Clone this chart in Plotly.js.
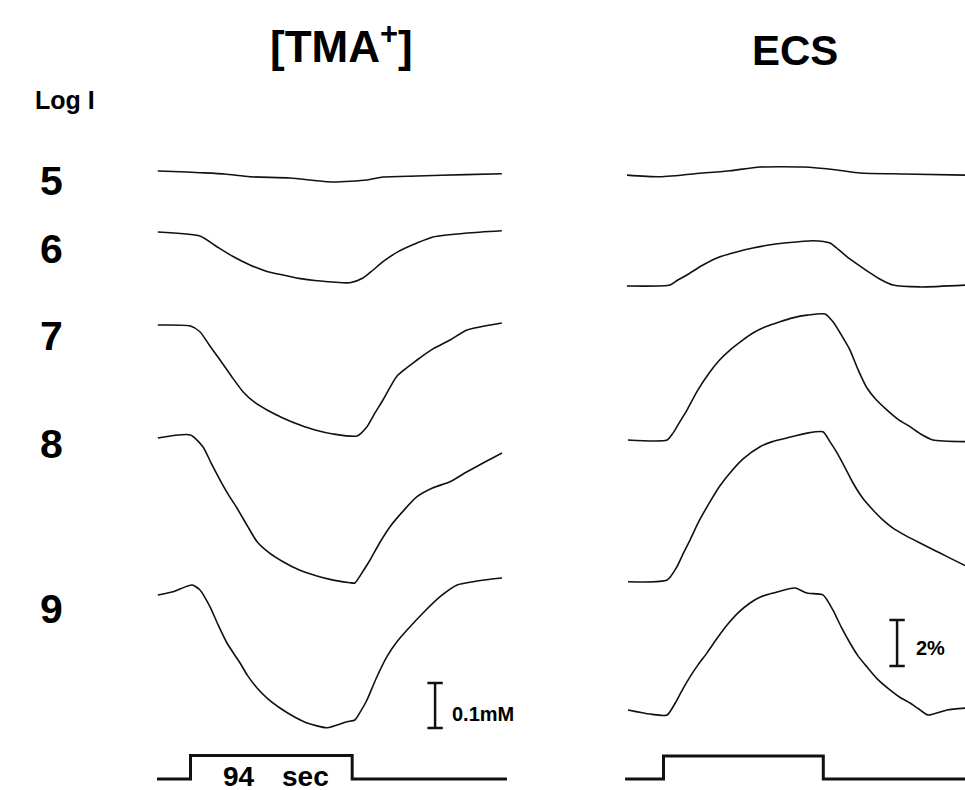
<!DOCTYPE html>
<html>
<head>
<meta charset="utf-8">
<script src="https://cdn.plot.ly/plotly-3.0.1.min.js"></script>
<style>html,body{margin:0;padding:0;background:#fff;}#chart{width:965px;height:790px;}</style>
</head>
<body>
<div id="chart"></div>
<script>
// ---------------- DATA ----------------
// Stimulus intensities (Log I) for the five rows
const logI = ['5', '6', '7', '8', '9'];

// [TMA+] traces: time (s, relative to stimulus onset) and change in [TMA+] (mM)
const tma5_t = [-19, -10, 5.5, 20, 34.6, 57.8, 82.8, 102.6, 111.9, 131.7, 160, 181];
const tma5_v = [0, -0.001, -0.0038, -0.0067, -0.0127, -0.0156, -0.0244, -0.020, -0.0133, -0.0111, -0.008, -0.006];

const tma6_t = [-19, 5.5, 15.4, 25, 34.6, 44, 53.8, 63, 73.5, 92.7, 100.3, 106, 111.9, 121, 131.7, 141, 160.8, 181];
const tma6_v = [0, -0.0089, -0.0327, -0.055, -0.0733, -0.087, -0.0956, -0.103, -0.1082, -0.1127, -0.1022, -0.085, -0.066, -0.043, -0.0244, -0.0111, -0.0022, 0.0029];

const tma7_t = [-19, 0, 5.5, 11, 17.2, 24, 30.5, 37, 44.5, 54, 63.7, 73, 82.8, 96.8, 102.6, 107, 111.9, 120.1, 131.7, 141, 150.9, 160.8, 181];
const tma7_v = [0, -0.0022, -0.0149, -0.045, -0.0778, -0.115, -0.1482, -0.171, -0.1889, -0.207, -0.2222, -0.234, -0.2422, -0.2467, -0.226, -0.197, -0.1667, -0.1133, -0.0778, -0.053, -0.0333, -0.0111, 0.0044];

const tma8_t = [-19, 0, 7.3, 12, 17.2, 22, 27, 33, 38.7, 46, 53.8, 63, 73.5, 83, 92.7, 95.6, 100, 104.4, 110, 116, 124, 131.7, 141, 150.9, 160, 170.1, 181.1];
const tma8_v = [-0.0022, 0.0044, -0.0222, -0.058, -0.0956, -0.128, -0.1578, -0.197, -0.2327, -0.258, -0.2771, -0.295, -0.3089, -0.318, -0.3238, -0.3244, -0.300, -0.2733, -0.235, -0.1993, -0.163, -0.1327, -0.113, -0.0993, -0.079, -0.0578, -0.0356];

const tma9_t = [-19, -10.2, 0.9, 5.5, 11.3, 16, 21.2, 28.8, 33, 38.7, 45, 52, 60, 67.7, 79.4, 91, 95.6, 99, 102.6, 108, 114.2, 120, 125.9, 135.2, 145.1, 155, 164.2, 172, 181.1];
const tma9_v = [0, 0.0073, 0.0222, 0.0111, -0.026, -0.066, -0.1067, -0.1511, -0.178, -0.2067, -0.231, -0.2511, -0.270, -0.2844, -0.2949, -0.2816, -0.2778, -0.258, -0.2333, -0.185, -0.1371, -0.104, -0.0778, -0.04, -0.0038, 0.0222, 0.0296, 0.034, 0.0378];

// ECS traces: time (s) and change in extracellular space volume (%)
const ecs5_t = [-21.5, -2.1, 23.2, 39.1, 56.8, 82.1, 102.1, 115.6, 140.9, 177.4];
const ecs5_v = [0.04, -0.03, 0.13, 0.23, 0.39, 0.39, 0.26, 0.13, 0.09, 0.04];

const ecs6_t = [-21.5, 3.8, 8, 13.8, 23.2, 33.2, 43, 52.6, 62, 72.6, 88.0, 97.9, 103, 108, 115, 121.5, 128, 135, 150.9, 177.4];
const ecs6_v = [0, 0.04, 0.24, 0.48, 0.91, 1.27, 1.48, 1.65, 1.78, 1.88, 1.97, 1.87, 1.58, 1.27, 0.90, 0.57, 0.27, 0.04, -0.04, 0.04];

const ecs7_t = [-20.9, 2.1, 5.6, 9.5, 13.8, 20, 27.4, 33, 39.1, 46, 52.6, 60, 68.5, 76, 84.4, 95.0, 99.7, 104.5, 109.7, 114.5, 119.7, 125, 131.5, 138, 145, 151, 158.5, 177.4];
const ecs7_v = [0, 0, 0.30, 0.78, 1.30, 2.15, 2.97, 3.48, 3.91, 4.31, 4.65, 4.92, 5.14, 5.31, 5.43, 5.48, 5.14, 4.58, 3.91, 3.05, 2.26, 1.76, 1.30, 0.90, 0.58, 0.27, 0, -0.07];

const ecs8_t = [-20.9, 2.1, 7.9, 11.5, 15.6, 21, 27.4, 33, 39.1, 47, 56.8, 64, 72.6, 84.4, 93.8, 98, 102.1, 107, 111.5, 117, 123.2, 129, 135, 143, 150.9, 159, 166.8, 177.4];
const ecs8_v = [-0.03, 0.04, 0.62, 1.18, 1.78, 2.62, 3.45, 4.12, 4.70, 5.32, 5.84, 6.06, 6.22, 6.43, 6.49, 6.05, 5.57, 4.90, 4.26, 3.62, 3.09, 2.66, 2.30, 1.95, 1.65, 1.35, 1.06, 0.67];

const ecs9_t = [-20.9, -7.9, 2.1, 7.9, 11.5, 15.6, 20.5, 25.6, 31, 37.4, 44, 50.9, 57, 64.4, 77.4, 84.4, 93.8, 99.7, 104.5, 109.7, 114.5, 119.7, 126, 133.2, 139, 145, 150, 155.6, 166.8, 177.4];
const ecs9_v = [0.09, -0.09, -0.13, 0.52, 1.02, 1.53, 2.07, 2.57, 3.15, 3.78, 4.32, 4.74, 5.00, 5.17, 5.39, 5.17, 5.09, 4.43, 3.70, 3.00, 2.43, 1.96, 1.42, 0.96, 0.64, 0.39, 0.14, -0.13, 0.09, 0.17];

// Stimulus (94 s): time (s) and on/off state
const stimTma_t = [-19.5, 0, 0, 94, 94, 184];
const stimEcs_t = [-22.6, 0, 0, 94, 94, 180];
const stim_on = [0, 0, 1, 1, 0, 0];

// Calibration bars
const scaleTma = 0.1;  // mM
const scaleEcs = 2;    // %

// ---------------- LAYOUT / POSITIONS ----------------
const W = 965, H = 790;
const FONT = '"Liberation Sans", Arial, Helvetica, sans-serif';
const left = { x0: 150, x1: 515, onset: 190.5, pps: 1.72 };
const right = { x0: 615, x1: 965, onset: 663.5, pps: 1.70 };
const tmaBasePx = [171, 232, 325, 437, 595];
const ecsBasePx = [176, 286, 440, 581, 712];
const mMperPx = scaleTma / 45;
const pctPerPx = scaleEcs / 46;
const scaleBarTmaT = 142.2, scaleBarEcsT = 137.4;

const layout = {
  width: W, height: H,
  margin: { l: 0, r: 0, t: 0, b: 0, pad: 0 },
  paper_bgcolor: '#ffffff', plot_bgcolor: 'rgba(0,0,0,0)',
  showlegend: false, hovermode: false,
  xaxis: { domain: [left.x0 / W, left.x1 / W], range: [(left.x0 - left.onset) / left.pps, (left.x1 - left.onset) / left.pps], visible: false, fixedrange: true },
  xaxis2: { domain: [right.x0 / W, right.x1 / W], range: [(right.x0 - right.onset) / right.pps, (right.x1 - right.onset) / right.pps], visible: false, fixedrange: true, anchor: 'free', position: 0 },
  annotations: [], shapes: []
};

let axisCount = 0;
function addYAxis(basePx, unitsPerPx) {
  axisCount++;
  const key = axisCount === 1 ? 'yaxis' : 'yaxis' + axisCount;
  layout[key] = { domain: [0, 1], range: [-(H - basePx) * unitsPerPx, basePx * unitsPerPx], visible: false, fixedrange: true, anchor: 'free', position: 0 };
  return axisCount === 1 ? 'y' : 'y' + axisCount;
}

const traces = [];
const black = '#111111';
const tmaT = [tma5_t, tma6_t, tma7_t, tma8_t, tma9_t];
const tmaV = [tma5_v, tma6_v, tma7_v, tma8_v, tma9_v];
const ecsT = [ecs5_t, ecs6_t, ecs7_t, ecs8_t, ecs9_t];
const ecsV = [ecs5_v, ecs6_v, ecs7_v, ecs8_v, ecs9_v];

for (let i = 0; i < 5; i++) {
  const ya = addYAxis(tmaBasePx[i], mMperPx);
  traces.push({ x: tmaT[i], y: tmaV[i], xaxis: 'x', yaxis: ya, type: 'scatter', mode: 'lines', line: { color: black, width: 1.6, shape: 'spline', smoothing: 0.6 }, name: '[TMA+] Log I ' + logI[i] });
}
for (let i = 0; i < 5; i++) {
  const ya = addYAxis(ecsBasePx[i], pctPerPx);
  traces.push({ x: ecsT[i], y: ecsV[i], xaxis: 'x2', yaxis: ya, type: 'scatter', mode: 'lines', line: { color: black, width: 1.6, shape: 'spline', smoothing: 0.6 }, name: 'ECS Log I ' + logI[i] });
}
// stimulus
const yStimL = addYAxis(779, 1 / 23.5);
traces.push({ x: stimTma_t, y: stim_on, xaxis: 'x', yaxis: yStimL, type: 'scatter', mode: 'lines', line: { color: black, width: 3 } });
const yStimR = addYAxis(779, 1 / 23);
traces.push({ x: stimEcs_t, y: stim_on, xaxis: 'x2', yaxis: yStimR, type: 'scatter', mode: 'lines', line: { color: black, width: 3 } });
// calibration bars
const ySbL = addYAxis(728, mMperPx);
traces.push({ x: [scaleBarTmaT, scaleBarTmaT], y: [0, scaleTma], xaxis: 'x', yaxis: ySbL, type: 'scatter', mode: 'lines+markers', line: { color: black, width: 2.5 }, marker: { symbol: 'line-ew', size: 11, line: { color: black, width: 2.5 } }, cliponaxis: false });
const ySbR = addYAxis(666, pctPerPx);
traces.push({ x: [scaleBarEcsT, scaleBarEcsT], y: [0, scaleEcs], xaxis: 'x2', yaxis: ySbR, type: 'scatter', mode: 'lines+markers', line: { color: black, width: 2.5 }, marker: { symbol: 'line-ew', size: 11, line: { color: black, width: 2.5 } }, cliponaxis: false });

function ann(text, px, py, size, xanchor) {
  layout.annotations.push({ text: text, xref: 'paper', yref: 'paper', x: px / W, y: 1 - py / H, xanchor: xanchor || 'center', yanchor: 'middle', showarrow: false, font: { family: FONT, size: size, color: '#000', weight: 'bold' } });
}
ann('[TMA<sup>+</sup>]', 341, 44, 44);
ann('ECS', 795, 50, 42);
ann('Log I', 65, 100, 25);
const rowLabelPy = [181, 249, 336, 444, 609];
for (let i = 0; i < 5; i++) ann(logI[i], 51, rowLabelPy[i], 41);
ann(scaleTma + 'mM', 450, 714, 20, 'left');
ann(scaleEcs + '%', 914, 648, 20, 'left');
ann('94', 239, 776, 28);
ann('sec', 305, 776, 28);

Plotly.newPlot('chart', traces, layout, { staticPlot: true, displayModeBar: false });
</script>
</body>
</html>
